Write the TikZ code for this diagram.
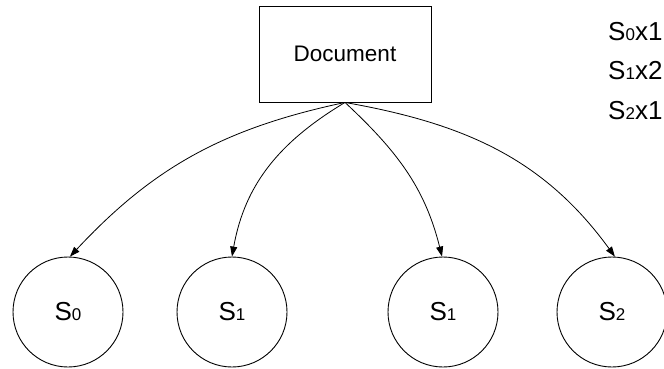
\documentclass[tikz,border=0pt]{standalone}
\usepackage{fontspec}
\setmainfont{Liberation Sans}
\usetikzlibrary{arrows.meta}
\newcommand\Slab[1]{S{\fontsize{17}{17}\selectfont #1}}
\tikzset{
  docbox/.style={draw, line width=0.9pt, minimum width=172pt, minimum height=96pt, inner sep=0pt, font=\fontsize{22.5}{24}\selectfont},
  statenode/.style={draw, circle, line width=0.9pt, minimum size=110pt, inner sep=0pt, font=\fontsize{26}{28}\selectfont},
  arr/.style={line width=0.8pt, -{Triangle[length=10pt,width=7pt]}},
  sidelab/.style={anchor=base west, inner sep=0pt, font=\fontsize{26}{28}\selectfont}
}
\begin{document}
\begin{tikzpicture}[x=1pt,y=1pt]
\useasboundingbox (0,0) rectangle (664,368);
\node[docbox] (doc) at (345,314) {Document};
\node[statenode] (s0) at (68,56) {\Slab{0}};
\node[statenode] (s1) at (232,56) {\Slab{1}};
\node[statenode] (s1b) at (443,56) {\Slab{1}};
\node[statenode] (s2) at (612,56) {\Slab{2}};
\draw[arr] (doc.south) to[out=192,in=47] (s0.88);
\draw[arr] (doc.south) to[out=211,in=80] (s1.90);
\draw[arr] (doc.south) to[out=317,in=104] (s1b.91);
\draw[arr] (doc.south) to[out=350,in=126] (s2.87);
\node[sidelab] (l0) at (608,328) {\Slab{0}x1};
\node[sidelab] (l1) at (608,289) {\Slab{1}x2};
\node[sidelab] (l2) at (608,249) {\Slab{2}x1};
\end{tikzpicture}
\end{document}
